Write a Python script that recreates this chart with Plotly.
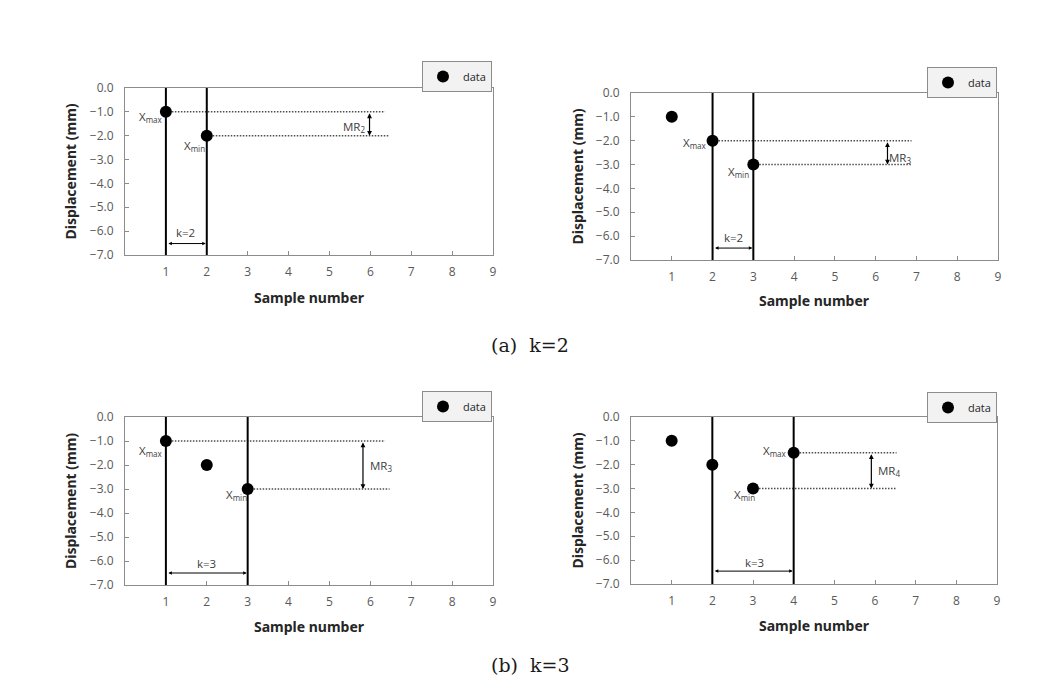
import plotly.graph_objects as go

# 各パネルのデータ (sample number, displacement)
a1_x = [1, 2]
a1_y = [-1.0, -2.0]
a2_x = [1, 2, 3]
a2_y = [-1.0, -2.0, -3.0]
b1_x = [1, 2, 3]
b1_y = [-1.0, -2.0, -3.0]
b2_x = [1, 2, 3, 4]
b2_y = [-1.0, -2.0, -3.0, -1.5]

# 移動範囲の窓 (start, end)
a1_win = [1, 2]
a2_win = [2, 3]
b1_win = [1, 3]
b2_win = [2, 4]

k_labels = ["k=2", "k=2", "k=3", "k=3"]
mr_labels = ["MR<sub>2</sub>", "MR<sub>3</sub>", "MR<sub>3</sub>", "MR<sub>4</sub>"]
x_ticks = [1, 2, 3, 4, 5, 6, 7, 8, 9]
y_ticks = [0, -1, -2, -3, -4, -5, -6, -7]

W, H = 1057, 693
OFF = 8  # ページ body の余白分

def fx(v):
    return (v - OFF) / W

def fy(v):
    return 1 - (v - OFF) / H

# パネル配置 (left, right, top, bottom) in px と注釈位置
panels = [
    dict(x=a1_x, y=a1_y, win=a1_win, box=(125, 493, 88, 255), leg=(492, 61),
         dot_end=(6.36, 6.47), mr_x=5.98, mr_pos=(5.6, -1.65),
         xmax_pos=(0.64, -1.23), xmin_pos=(1.69, -2.44),
         k_pos=(1.49, -6.05), k_y=-6.52, ytitle_x=70, xtitle_y=297),
    dict(x=a2_x, y=a2_y, win=a2_win, box=(631, 998, 93, 260), leg=(997, 67),
         dot_end=(6.88, 6.88), mr_x=6.29, mr_pos=(6.6, -2.72),
         xmax_pos=(1.57, -2.1), xmin_pos=(2.63, -3.32),
         k_pos=(2.51, -6.05), k_y=-6.5, ytitle_x=577, xtitle_y=301),
    dict(x=b1_x, y=b1_y, win=b1_win, box=(125, 493, 417, 585), leg=(492, 391),
         dot_end=(6.36, 6.47), mr_x=5.82, mr_pos=(6.26, -2.03),
         xmax_pos=(0.64, -1.43), xmin_pos=(2.72, -3.24),
         k_pos=(2.0, -6.12), k_y=-6.5, ytitle_x=70, xtitle_y=626),
    dict(x=b2_x, y=b2_y, win=b2_win, box=(631, 997, 417, 584), leg=(997, 392),
         dot_end=(6.53, 6.53), mr_x=5.91, mr_pos=(6.35, -2.28),
         xmax_pos=(3.54, -1.42), xmin_pos=(2.78, -3.28),
         k_pos=(3.03, -6.1), k_y=-6.46, ytitle_x=577, xtitle_y=625),
]

tick_font = dict(family="Open Sans, Noto Sans, sans-serif", size=12, color="#595959")
lab_font = dict(family="Open Sans, Noto Sans, sans-serif", size=11.5, color="#404040")
title_font = dict(family="Noto Sans, sans-serif", size=14, color="#262626")

fig = go.Figure()
layout = dict(width=W, height=H, margin=dict(l=0, r=0, t=0, b=0, autoexpand=False),
              plot_bgcolor="white", paper_bgcolor="white")
annotations = []
shapes = []

for i, p in enumerate(panels):
    n = "" if i == 0 else str(i + 1)
    xr, yr = "x" + n, "y" + n
    lg = "legend" + n
    l, r, t, b = p["box"]

    layout["xaxis" + n] = dict(
        domain=[fx(l), fx(r)], anchor=yr, range=[0, 9],
        tickvals=x_ticks, ticks="inside", ticklen=4, tickcolor="#8c8c8c",
        showline=True, linecolor="#8c8c8c", linewidth=1, mirror=True,
        showgrid=False, zeroline=False, tickfont=tick_font, ticklabelstandoff=6,
        automargin=False)
    layout["yaxis" + n] = dict(
        domain=[fy(b), fy(t)], anchor=xr, range=[-7, 0],
        tickvals=y_ticks, tickformat=".1f", ticks="inside", ticklen=4,
        tickcolor="#8c8c8c", showline=True, linecolor="#8c8c8c", linewidth=1,
        mirror=True, showgrid=False, zeroline=False, tickfont=tick_font,
        ticklabelstandoff=8, automargin=False)
    layout[lg] = dict(
        x=fx(p["leg"][0]), y=fy(p["leg"][1]), xanchor="right", yanchor="top",
        bgcolor="#f2f2f2", bordercolor="#8c8c8c", borderwidth=1,
        font=dict(family="Open Sans, sans-serif", size=11, color="#262626"),
        itemwidth=30, tracegroupgap=0)

    fig.add_trace(go.Scatter(
        x=p["x"], y=p["y"], mode="markers", name="data",
        marker=dict(size=12, color="black"),
        xaxis=xr, yaxis=yr, legend=lg, showlegend=True))

    # 窓の縦線
    for wx in p["win"]:
        shapes.append(dict(type="line", xref=xr, yref=yr, x0=wx, x1=wx, y0=-7, y1=0,
                           line=dict(color="black", width=2)))

    # 窓内の最大・最小
    inwin = [(xx, yy) for xx, yy in zip(p["x"], p["y"]) if p["win"][0] <= xx <= p["win"][1]]
    xmax_pt = max(inwin, key=lambda q: q[1])
    xmin_pt = min(inwin, key=lambda q: q[1])

    dot_line = dict(color="#4d4d4d", width=1.5, dash="1.5px,1.5px")
    shapes.append(dict(type="line", xref=xr, yref=yr, x0=xmax_pt[0], x1=p["dot_end"][0],
                       y0=xmax_pt[1], y1=xmax_pt[1], line=dot_line, layer="below"))
    shapes.append(dict(type="line", xref=xr, yref=yr, x0=xmin_pt[0], x1=p["dot_end"][1],
                       y0=xmin_pt[1], y1=xmin_pt[1], line=dot_line, layer="below"))

    # MR 矢印
    annotations.append(dict(
        xref=xr, yref=yr, axref=xr, ayref=yr, x=p["mr_x"], y=xmin_pt[1],
        ax=p["mr_x"], ay=xmax_pt[1], text="", showarrow=True,
        arrowhead=2, startarrowhead=2, arrowside="end+start",
        arrowsize=0.8, startarrowsize=0.8, arrowwidth=1.2, arrowcolor="black",
        standoff=0, startstandoff=0))
    annotations.append(dict(xref=xr, yref=yr, x=p["mr_pos"][0], y=p["mr_pos"][1],
                            text=mr_labels[i], showarrow=False, font=lab_font,
                            xanchor="center", yanchor="middle"))
    annotations.append(dict(xref=xr, yref=yr, x=p["xmax_pos"][0], y=p["xmax_pos"][1],
                            text="X<sub>max</sub>", showarrow=False, font=lab_font,
                            xanchor="center", yanchor="middle"))
    annotations.append(dict(xref=xr, yref=yr, x=p["xmin_pos"][0], y=p["xmin_pos"][1],
                            text="X<sub>min</sub>", showarrow=False, font=lab_font,
                            xanchor="center", yanchor="middle"))

    # k 矢印
    annotations.append(dict(
        xref=xr, yref=yr, axref=xr, ayref=yr, x=p["win"][1], y=p["k_y"],
        ax=p["win"][0], ay=p["k_y"], text="", showarrow=True,
        arrowhead=2, startarrowhead=2, arrowside="end+start",
        arrowsize=0.7, startarrowsize=0.7, arrowwidth=1, arrowcolor="black",
        standoff=1, startstandoff=1))
    annotations.append(dict(xref=xr, yref=yr, x=p["k_pos"][0], y=p["k_pos"][1],
                            text=k_labels[i], showarrow=False, font=lab_font,
                            xanchor="center", yanchor="middle"))

    # 軸タイトル
    annotations.append(dict(xref="paper", yref="paper", x=fx(p["ytitle_x"]),
                            y=fy((t + b) / 2), text="<b>Displacement (mm)</b>",
                            textangle=-90, showarrow=False, font=title_font,
                            xanchor="center", yanchor="middle"))
    annotations.append(dict(xref="paper", yref="paper", x=fx((l + r) / 2),
                            y=fy(p["xtitle_y"]), text="<b>Sample number</b>",
                            showarrow=False, font=title_font,
                            xanchor="center", yanchor="middle"))

cap_font = dict(family="DejaVu Serif, serif", size=19, color="#1a1a1a")
annotations.append(dict(xref="paper", yref="paper", x=fx(530), y=fy(345),
                        text="(a)\u00a0 k=2", showarrow=False, font=cap_font,
                        xanchor="center", yanchor="middle"))
annotations.append(dict(xref="paper", yref="paper", x=fx(530), y=fy(665),
                        text="(b)\u00a0 k=3", showarrow=False, font=cap_font,
                        xanchor="center", yanchor="middle"))

layout["annotations"] = annotations
layout["shapes"] = shapes
fig.update_layout(**layout)

fig.write_html("out.html")
